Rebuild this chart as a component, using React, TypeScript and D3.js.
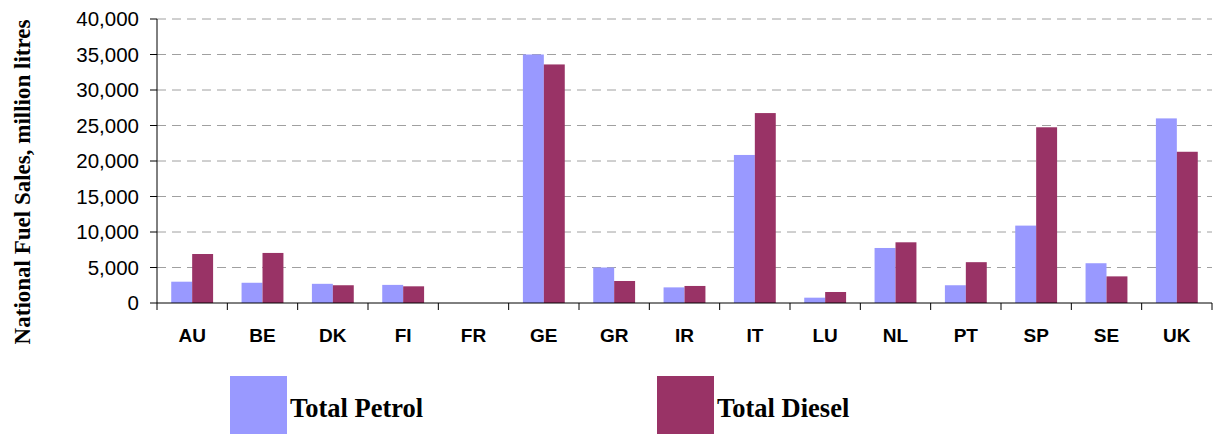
import React from "react";
import * as d3 from "d3";

const countries = ["AU", "BE", "DK", "FI", "FR", "GE", "GR", "IR", "IT", "LU", "NL", "PT", "SP", "SE", "UK"];
const petrol = [3000, 2850, 2700, 2550, 0, 35000, 5000, 2200, 20850, 750, 7750, 2500, 10900, 5600, 26000];
const diesel = [6900, 7050, 2500, 2350, 0, 33600, 3100, 2400, 26750, 1550, 8550, 5750, 24750, 3750, 21300];
const yTicks = [0, 5000, 10000, 15000, 20000, 25000, 30000, 35000, 40000];
const seriesNames = ["Total Petrol", "Total Diesel"];
const colors = ["#9999ff", "#993366"];

const width = 1213;
const height = 434;
const margin = { top: 19, right: 1, bottom: 131, left: 157 };

export default function App() {
  const x0 = d3.scaleBand<string>()
    .domain(countries)
    .range([margin.left, width - margin.right])
    .padding(0);

  const x1 = d3.scaleBand<string>()
    .domain(seriesNames)
    .range([0, x0.bandwidth()])
    .paddingInner(0)
    .paddingOuter(0.68);

  const y = d3.scaleLinear()
    .domain([0, 40000])
    .range([height - margin.bottom, margin.top]);

  const fmt = d3.format(",");
  const values = [petrol, diesel];
  const y0 = y(0);

  // band edges for the category tick marks
  const edges = countries.map(c => x0(c) as number).concat([width - margin.right]);

  return (
    <svg width={width} height={height} style={{ position: "absolute", left: 0, top: 0, background: "#fff" }}>
      {/* gridlines */}
      {yTicks.filter(t => t > 0).map(t => (
        <line key={"g" + t} x1={margin.left} x2={width - margin.right} y1={y(t)} y2={y(t)}
          stroke="#a0a0a0" strokeWidth={1} strokeDasharray="9,6" />
      ))}

      {/* bars */}
      {values.map((vals, si) => (
        <g key={"s" + si} fill={colors[si]}>
          {countries.map((c, i) => (
            <rect key={c}
              x={(x0(c) as number) + (x1(seriesNames[si]) as number)}
              y={y(vals[i])}
              width={x1.bandwidth()}
              height={y0 - y(vals[i])} />
          ))}
        </g>
      ))}

      {/* y axis */}
      <line x1={margin.left} x2={margin.left} y1={margin.top} y2={y0} stroke="#000" />
      {yTicks.map(t => (
        <g key={"t" + t}>
          <line x1={margin.left - 7} x2={margin.left} y1={y(t)} y2={y(t)} stroke="#000" />
          <text x={139} y={y(t)} dy="0.36em" textAnchor="end"
            fontFamily="Arial, 'Liberation Sans', sans-serif" fontSize={20.5} fill="#000">
            {fmt(t)}
          </text>
        </g>
      ))}

      {/* x axis */}
      <line x1={margin.left} x2={width - margin.right} y1={y0} y2={y0} stroke="#000" />
      {edges.map((e, i) => (
        <line key={"e" + i} x1={e} x2={e} y1={y0} y2={y0 + 7} stroke="#000" />
      ))}
      {countries.map(c => (
        <text key={"l" + c} x={(x0(c) as number) + x0.bandwidth() / 2} y={342}
          textAnchor="middle" fontFamily="Arial, 'Liberation Sans', sans-serif"
          fontWeight="bold" fontSize={19} fill="#000">
          {c}
        </text>
      ))}

      {/* y axis title */}
      <text transform="translate(30,182) rotate(-90)" textAnchor="middle"
        fontFamily="'Times New Roman', 'Liberation Serif', serif" fontWeight="bold"
        fontSize={23} fill="#000">
        National Fuel Sales, million litres
      </text>

      {/* legend */}
      {seriesNames.map((s, i) => {
        const lx = [230, 657][i];
        return (
          <g key={"lg" + s}>
            <rect x={lx} y={376} width={57} height={58} fill={colors[i]} />
            <text x={lx + 60} y={417} fontFamily="'Times New Roman', 'Liberation Serif', serif"
              fontWeight="bold" fontSize={26.5} fill="#000">
              {s}
            </text>
          </g>
        );
      })}
    </svg>
  );
}
